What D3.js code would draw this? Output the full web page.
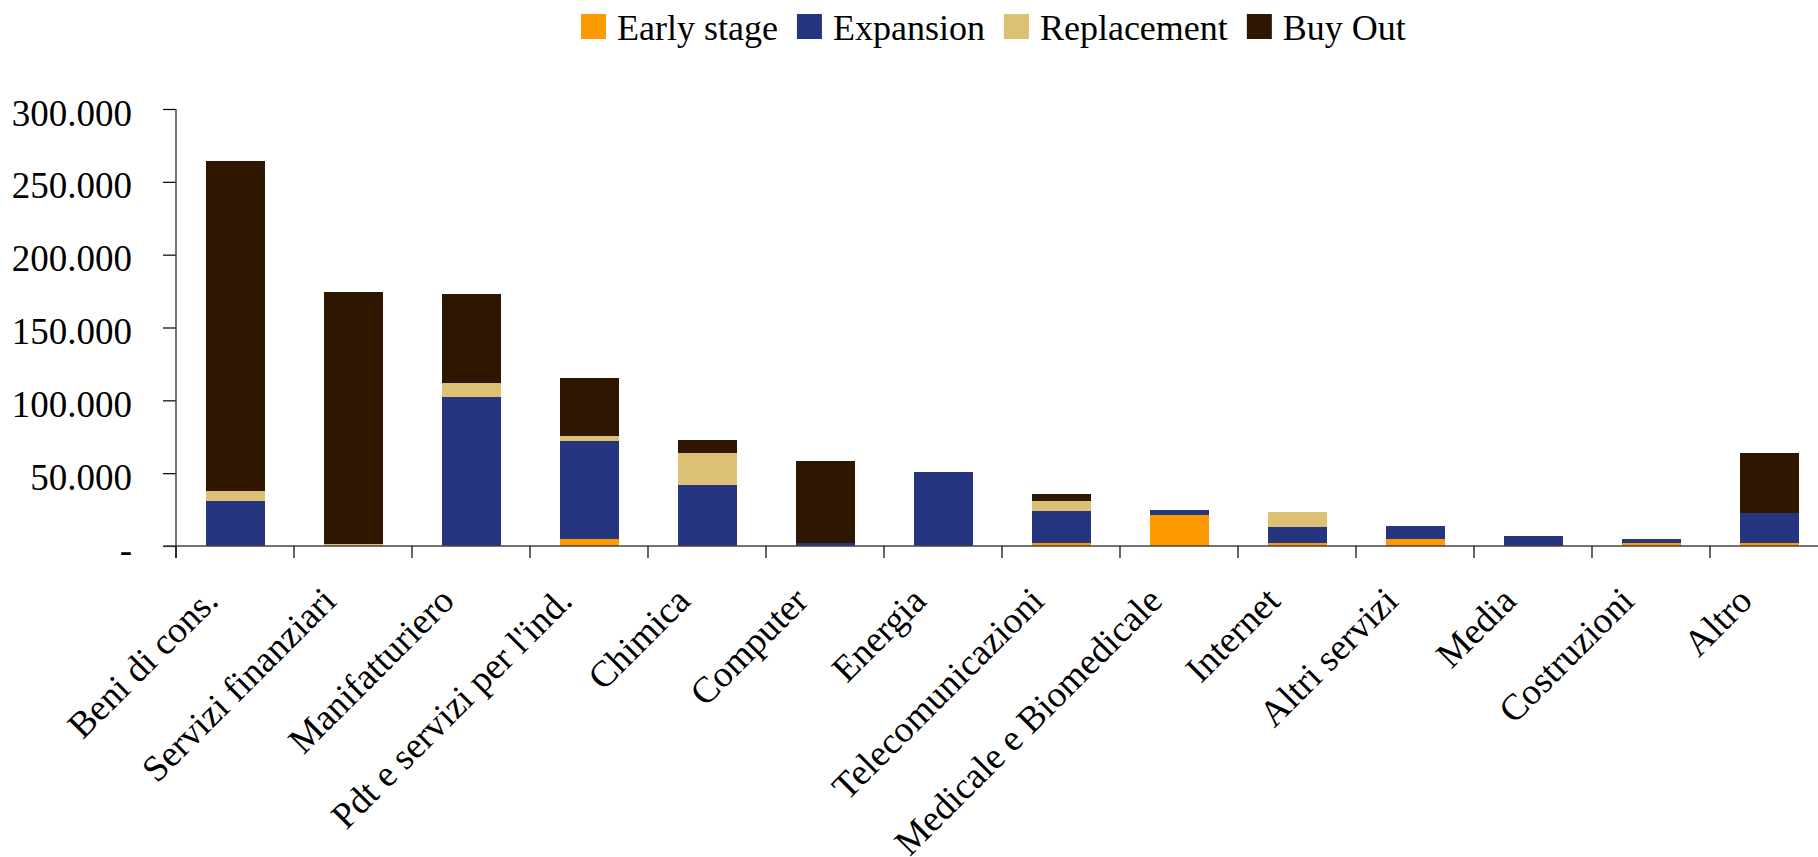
<!DOCTYPE html>
<html><head><meta charset="utf-8">
<script src="https://cdn.jsdelivr.net/npm/d3@7"></script>
<style>
html,body{margin:0;padding:0;background:#fff;}
svg text{font-family:"Liberation Serif","Times New Roman",serif;fill:#000;}
</style></head>
<body><svg id="c" width="1818" height="857"></svg>
<script>
const categories = ["Beni di cons.","Servizi finanziari","Manifatturiero","Pdt e servizi per l'ind.","Chimica","Computer","Energia","Telecomunicazioni","Medicale e Biomedicale","Internet","Altri servizi","Media","Costruzioni","Altro"];
const seriesNames = ["Early stage","Expansion","Replacement","Buy Out"];
const earlyStage  = [0,     0,     0,      5100,  0,     0,     0,     2100,  21300, 2100,  4800, 0,    2100, 2100];
const expansion   = [31200, 0,     102600, 67300, 41900, 2100,  50800, 21900, 3400,  10900, 8900, 6900, 2700, 20500];
const replacement = [6900,  1100,  9600,   3000,  21900, 0,     0,     6900,  0,     10300, 0,    0,    0,    0];
const buyOut      = [226500,173000,61100,  39600, 9000,  56200, 0,     4800,  0,     0,     0,    0,    0,    41200];
const yTicks = [0,50000,100000,150000,200000,250000,300000];
const yTickLabels = ["-","50.000","100.000","150.000","200.000","250.000","300.000"];
const colors = ["#FF9900","#263580","#DCC175","#2E1600"];

const svg = d3.select("#c");
const x0 = 176, yBase = 546, yTop = 109, band = 118;
const x = d3.scaleBand().domain(categories).range([x0, x0 + band*categories.length]).paddingInner(0.5).paddingOuter(0.25);
const y = d3.scaleLinear().domain([0,300000]).range([yBase, yTop]);

const table = categories.map((c,i)=>({cat:c, "Early stage":earlyStage[i], "Expansion":expansion[i], "Replacement":replacement[i], "Buy Out":buyOut[i]}));
const stacked = d3.stack().keys(seriesNames)(table);

// bars
svg.append("g").selectAll("g").data(stacked).join("g")
  .attr("fill",(d,i)=>colors[i])
  .selectAll("rect").data(d=>d).join("rect")
  .attr("x",d=>x(d.data.cat))
  .attr("width",x.bandwidth())
  .attr("y",d=>y(d[1]))
  .attr("height",d=>Math.max(0,y(d[0])-y(d[1])))
  .attr("shape-rendering","crispEdges");

// y axis
const yAxis = d3.axisLeft(y).tickValues(yTicks).tickFormat((d,i)=>yTickLabels[i]).tickSize(13).tickPadding(31);
const gy = svg.append("g").attr("transform",`translate(${x0},0)`).call(yAxis);
gy.select(".domain").remove();
gy.selectAll(".tick line").attr("stroke","#000").attr("stroke-width",1.2);
gy.selectAll(".tick text").attr("font-size",37).attr("dy",null).attr("y",null)
  .attr("dominant-baseline","auto").attr("transform","translate(0,16)")
  .style("font-family",'"Liberation Serif","Times New Roman",serif');
gy.append("line").attr("x1",0).attr("x2",0).attr("y1",yTop).attr("y2",yBase+12).attr("stroke","#444").attr("stroke-width",1.5);

// x axis
const gx = svg.append("g");
gx.append("line").attr("x1",x0-13).attr("x2",1818).attr("y1",yBase).attr("y2",yBase).attr("stroke","#444").attr("stroke-width",1.5);
const bounds = d3.range(categories.length+1).map(i=>x0+i*band);
gx.selectAll("line.t").data(bounds).join("line").attr("class","t")
  .attr("x1",d=>d).attr("x2",d=>d).attr("y1",yBase).attr("y2",yBase+12)
  .attr("stroke","#000").attr("stroke-width",1.2);
gx.selectAll("text").data(categories).join("text")
  .attr("text-anchor","end").attr("font-size",37)
  .attr("transform",d=>`translate(${x(d)+x.bandwidth()/2-15},603) rotate(-45)`)
  .text(d=>d);

// legend
const lg = svg.append("g");
let lx = 581;
seriesNames.forEach((n,i)=>{
  lg.append("rect").attr("x",lx).attr("y",14).attr("width",25).attr("height",25).attr("fill",colors[i]);
  const t = lg.append("text").attr("x",lx+36).attr("y",40).attr("font-size",36).text(n);
  lx += 36 + t.node().getComputedTextLength() + 19;
});
</script></body></html>
